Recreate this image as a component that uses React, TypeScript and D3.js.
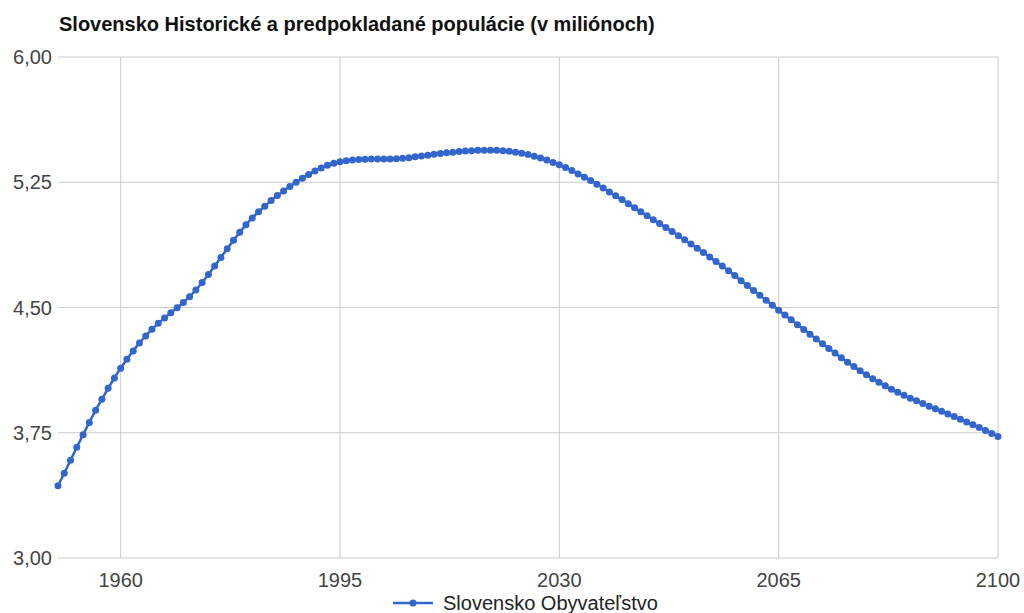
import React from "react";
import * as d3 from "d3";

const TITLE = "Slovensko Historické a predpokladané populácie (v miliónoch)";
const SERIES_NAME = "Slovensko Obyvateľstvo";
const START_YEAR = 1950;
const VALUES: number[] = [
  // 1950-1959
  3.433, 3.508, 3.585, 3.663, 3.738, 3.812, 3.884, 3.95, 4.016, 4.078,
  // 1960-1969
  4.136, 4.19, 4.24, 4.288, 4.33, 4.37, 4.405, 4.437, 4.468, 4.498,
  // 1970-1979
  4.53, 4.565, 4.605, 4.65, 4.698, 4.748, 4.8, 4.852, 4.902, 4.95,
  // 1980-1989
  4.995, 5.036, 5.073, 5.107, 5.14, 5.17, 5.198, 5.225, 5.25, 5.274,
  // 1990-1999
  5.297, 5.318, 5.336, 5.352, 5.364, 5.373, 5.379, 5.383, 5.386, 5.388,
  // 2000-2009
  5.389, 5.389, 5.389, 5.389, 5.39, 5.393, 5.397, 5.402, 5.407, 5.412,
  // 2010-2019
  5.417, 5.422, 5.426, 5.43, 5.434, 5.437, 5.439, 5.441, 5.442, 5.442,
  // 2020-2029
  5.441, 5.439, 5.435, 5.43, 5.424, 5.416, 5.406, 5.395, 5.383, 5.369,
  // 2030-2039
  5.355, 5.338, 5.32, 5.3, 5.28, 5.26, 5.238, 5.215, 5.192, 5.169,
  // 2040-2049
  5.146, 5.122, 5.098, 5.074, 5.05, 5.026, 5.003, 4.979, 4.955, 4.93,
  // 2050-2059
  4.905, 4.88, 4.855, 4.829, 4.802, 4.775, 4.748, 4.72, 4.692, 4.66,
  // 2060-2069
  4.631, 4.602, 4.573, 4.544, 4.514, 4.484, 4.455, 4.426, 4.397, 4.368,
  // 2070-2079
  4.34, 4.311, 4.283, 4.255, 4.227, 4.199, 4.172, 4.146, 4.121, 4.097,
  // 2080-2089
  4.074, 4.052, 4.031, 4.011, 3.992, 3.974, 3.957, 3.941, 3.925, 3.909,
  // 2090-2100
  3.894, 3.879, 3.863, 3.847, 3.831, 3.815, 3.798, 3.781, 3.764, 3.746, 3.728,
];
const X_TICKS = [1960, 1995, 2030, 2065, 2100];
const Y_TICKS = [3.0, 3.75, 4.5, 5.25, 6.0];

const W = 1024;
const H = 613;
const M = { left: 58, right: 26, top: 57, bottom: 55 };
const FONT = "Arial, 'Liberation Sans', sans-serif";
const BLUE = "#3366cc";

export default function App() {
  const data = VALUES.map((v, i) => ({ year: START_YEAR + i, value: v }));
  const x = d3
    .scaleLinear()
    .domain([START_YEAR, START_YEAR + VALUES.length - 1])
    .range([M.left, W - M.right]);
  const y = d3.scaleLinear().domain([3, 6]).range([H - M.bottom, M.top]);
  const line = d3
    .line<{ year: number; value: number }>()
    .x((d) => x(d.year))
    .y((d) => y(d.value))
    .curve(d3.curveMonotoneX);
  const fmt = (v: number) => v.toFixed(2).replace(".", ",");

  return (
    <svg
      width={W}
      height={H}
      style={{ position: "absolute", left: 0, top: 0, background: "#fff" }}
      fontFamily={FONT}
    >
      <text x={59} y={31} fontSize={20} fontWeight="bold" fill="#111">
        {TITLE}
      </text>
      {Y_TICKS.map((t) => (
        <g key={"y" + t}>
          <line x1={M.left} x2={W - M.right} y1={y(t)} y2={y(t)} stroke="#cccccc" strokeWidth={1} />
          <text x={52} y={y(t)} dy="0.35em" textAnchor="end" fontSize={20} fill="#444">
            {fmt(t)}
          </text>
        </g>
      ))}
      {X_TICKS.map((t) => (
        <g key={"x" + t}>
          <line x1={x(t)} x2={x(t)} y1={M.top} y2={y(3)} stroke="#cccccc" strokeWidth={1} />
          <text x={x(t)} y={587} textAnchor="middle" fontSize={20} fill="#444">
            {t}
          </text>
        </g>
      ))}
      <path d={line(data) || ""} fill="none" stroke={BLUE} strokeWidth={2.5} />
      {data.map((d) => (
        <circle key={d.year} cx={x(d.year)} cy={y(d.value)} r={3.5} fill={BLUE} />
      ))}
      <g>
        <line x1={393} x2={433} y1={603} y2={603} stroke={BLUE} strokeWidth={2.5} />
        <circle cx={413} cy={603} r={3.5} fill={BLUE} />
        <text x={443} y={603} dy="0.35em" fontSize={20} fill="#222">
          {SERIES_NAME}
        </text>
      </g>
    </svg>
  );
}
